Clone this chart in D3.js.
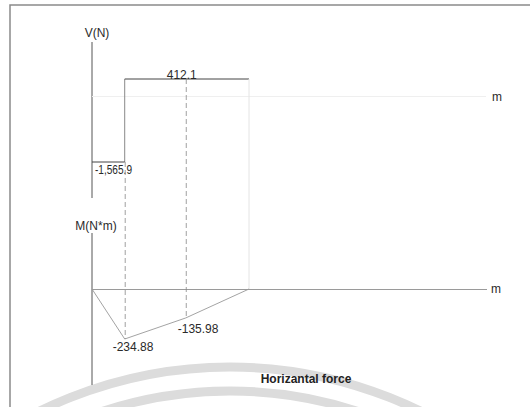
<!DOCTYPE html>
<html>
<head>
<meta charset="utf-8">
<script src="https://cdn.jsdelivr.net/npm/d3@7"></script>
<style>
  body { margin: 0; background: #fff; }
  text { font-family: "Liberation Sans", Arial, sans-serif; fill: #2a2a2a; }
</style>
</head>
<body>
<script>

// beam stations (m), shear and moment values
var stations = [0, 0.15, 0.43, 0.72];
var shearSteps = [-1565.9, 412.1];          // V on [0,0.15] and [0.15,0.72]
var momentValues = [0, -234.88, -135.98, 0]; // M at each station
var shearLabels = ["-1,565.9", "412.1"];
var momentLabels = ["-234.88", "-135.98"];

var width = 530, height = 407;

var svg = d3.select("body").append("svg")
    .attr("width", width)
    .attr("height", height);

// watermark arcs behind everything
var wm = svg.append("g");
[433, 409].forEach(function (r) {
  wm.append("circle")
      .attr("cx", 230).attr("cy", 800).attr("r", r)
      .attr("fill", "none")
      .attr("stroke", "#dcdcdc")
      .attr("stroke-width", 9);
});

// frame
svg.append("path")
    .attr("d", "M10,407V5H530")
    .attr("fill", "none")
    .attr("stroke", "#8a8a8a")
    .attr("stroke-width", 1.5);

var x = d3.scaleLinear().domain([0, 0.72]).range([92, 249]);
var yV = d3.scaleLinear().domain([-1565.9, 412.1]).range([162, 79]);
var yM = d3.scaleLinear().domain([-234.88, 0]).range([339, 289]);

var vZero = Math.round(yV(0)) + 0.5;
var mZero = yM(0) + 0.5;

// ---- shear diagram ----
svg.append("line")
    .attr("x1", x(0)).attr("x2", x(0))
    .attr("y1", 42).attr("y2", 198)
    .attr("stroke", "#555");
svg.append("text")
    .attr("x", x(0) + 5).attr("y", 37)
    .attr("text-anchor", "middle")
    .style("font-size", "12px")
    .text("V(N)");

svg.append("line")
    .attr("x1", x(0)).attr("x2", 486)
    .attr("y1", vZero).attr("y2", vZero)
    .attr("stroke", "#efefef");
svg.append("text")
    .attr("x", 492).attr("y", vZero + 4)
    .style("font-size", "12px")
    .text("m");

var shearPts = [
  [stations[0], shearSteps[0]], [stations[1], shearSteps[0]],
  [stations[1], shearSteps[1]], [stations[3], shearSteps[1]]
];
var lineV = d3.line().x(function (d) { return x(d[0]); }).y(function (d) { return yV(d[1]); });

// horizontal steps dark, the jump lighter
svg.append("path")
    .datum(shearPts.slice(1, 3))
    .attr("d", lineV)
    .attr("fill", "none")
    .attr("stroke", "#888");
[shearPts.slice(0, 2), shearPts.slice(2, 4)].forEach(function (seg) {
  svg.append("path")
      .datum(seg)
      .attr("d", lineV)
      .attr("fill", "none")
      .attr("stroke", "#444");
});

// right end drop to moment axis
svg.append("line")
    .attr("x1", x(stations[3])).attr("x2", x(stations[3]))
    .attr("y1", yV(shearSteps[1])).attr("y2", yM(0))
    .attr("stroke", "#e4e4e4");

svg.append("text")
    .attr("x", x(0) + 3).attr("y", yV(shearSteps[0]) + 12)
    .attr("textLength", 37).attr("lengthAdjust", "spacingAndGlyphs")
    .style("font-size", "12px")
    .text(shearLabels[0]);
svg.append("text")
    .attr("x", x(stations[2]) - 4).attr("y", yV(shearSteps[1]))
    .attr("text-anchor", "middle")
    .style("font-size", "12px")
    .text(shearLabels[1]);

// ---- moment diagram ----
svg.append("line")
    .attr("x1", x(0)).attr("x2", x(0))
    .attr("y1", 233).attr("y2", 385)
    .attr("stroke", "#555");
svg.append("text")
    .attr("x", x(0) + 4).attr("y", 230)
    .attr("text-anchor", "middle")
    .style("font-size", "12px")
    .text("M(N*m)");

svg.append("line")
    .attr("x1", x(0)).attr("x2", 487)
    .attr("y1", mZero).attr("y2", mZero)
    .attr("stroke", "#9a9a9a");
svg.append("text")
    .attr("x", 491).attr("y", mZero + 3)
    .style("font-size", "12px")
    .text("m");

var momentPts = stations.map(function (s, i) { return [s, momentValues[i]]; });
svg.append("path")
    .datum(momentPts)
    .attr("d", d3.line().x(function (d) { return x(d[0]); }).y(function (d) { return yM(d[1]); }))
    .attr("fill", "none")
    .attr("stroke", "#999")
    .attr("stroke-width", 0.9);

// dashed guides between diagrams
[1, 2].forEach(function (i) {
  svg.append("line")
      .attr("x1", x(stations[i]) + 0.5).attr("x2", x(stations[i]) + 0.5)
      .attr("y1", i === 1 ? yV(shearSteps[0]) : yV(shearSteps[1]))
      .attr("y2", yM(momentValues[i]))
      .attr("stroke", "#888")
      .attr("stroke-width", 0.8)
      .attr("stroke-dasharray", "5,3");
});

svg.append("text")
    .attr("x", x(stations[1]) - 12).attr("y", yM(momentValues[1]) + 12)
    .style("font-size", "12px")
    .text(momentLabels[0]);
svg.append("text")
    .attr("x", x(stations[2]) - 8).attr("y", yM(momentValues[2]) + 15)
    .style("font-size", "12px")
    .text(momentLabels[1]);

svg.append("text")
    .attr("x", 306).attr("y", 383)
    .attr("text-anchor", "middle")
    .style("font-size", "12px")
    .style("font-weight", "bold")
    .style("fill", "#222")
    .text("Horizantal force");

</script>
</body>
</html>
